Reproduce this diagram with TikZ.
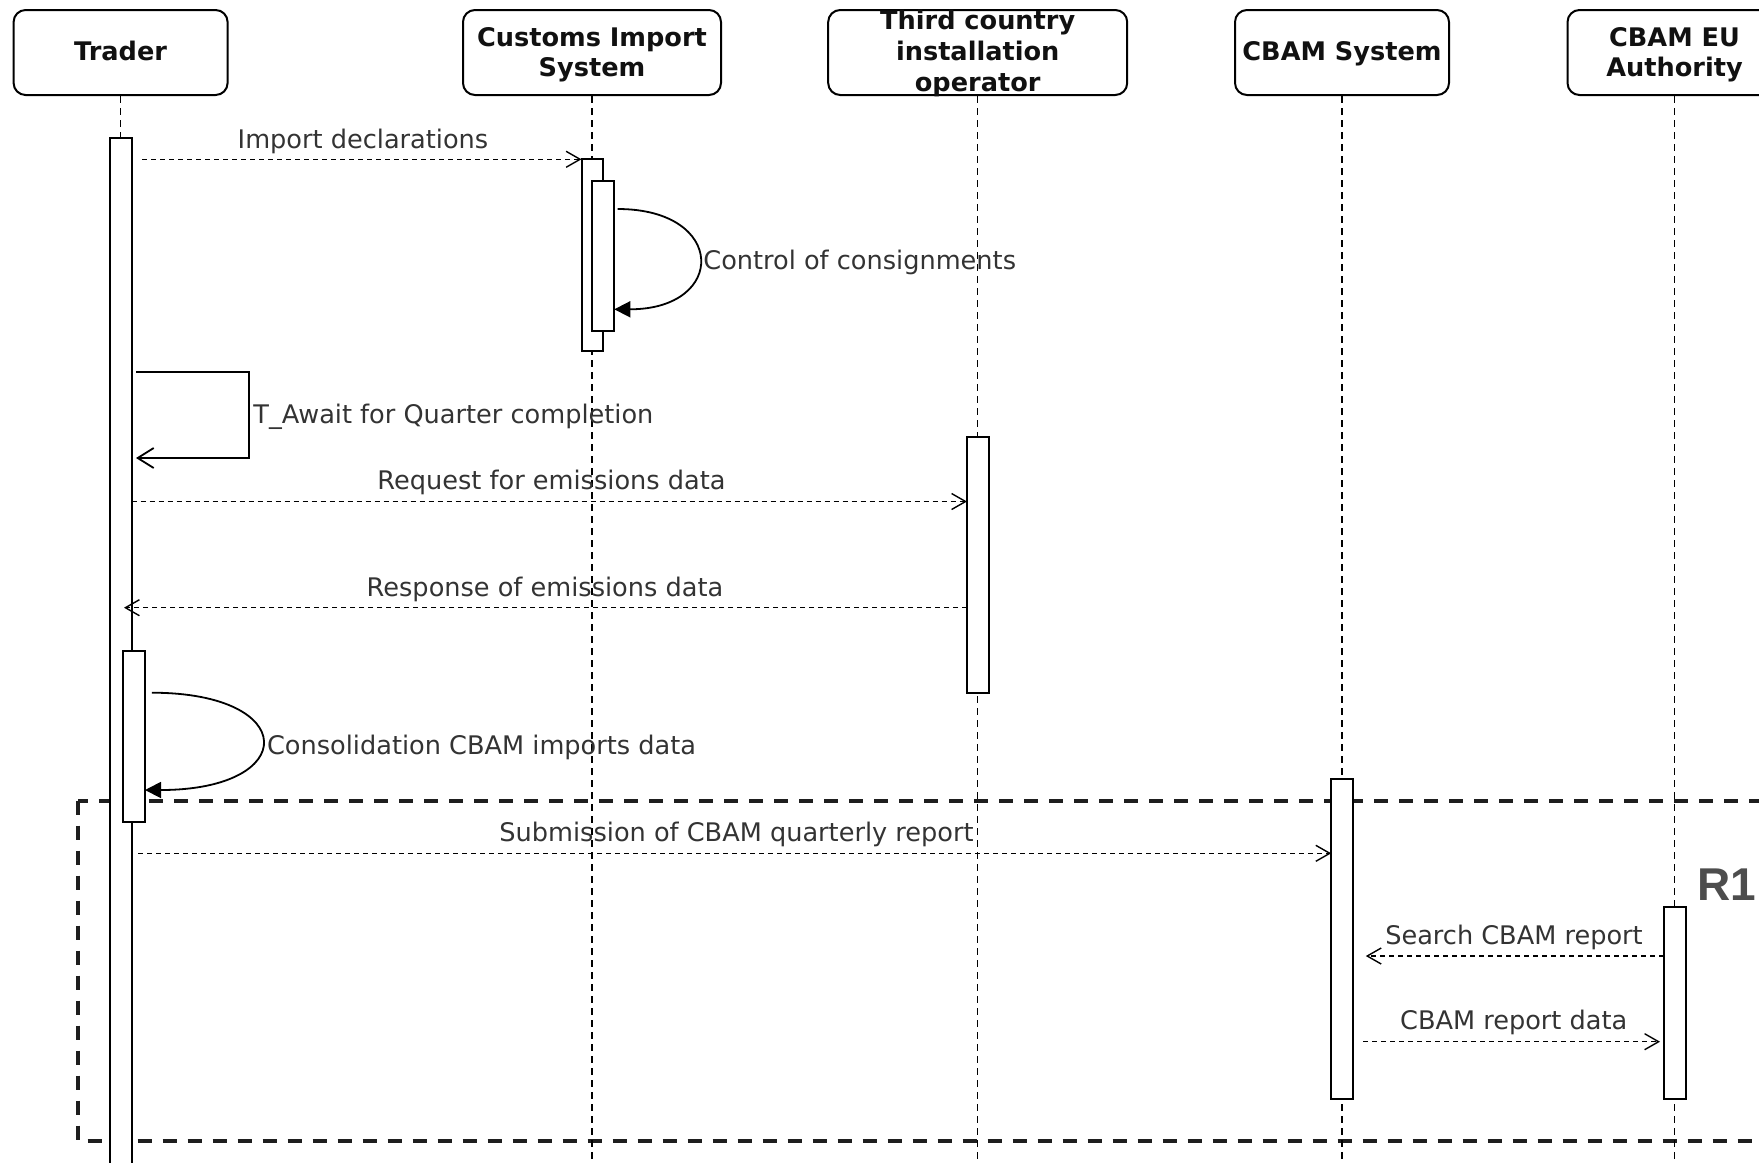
\documentclass[tikz,border=0pt]{standalone}
\usepackage{fontspec}
\setmainfont{DejaVu Sans}
\newfontfamily\rfont{Liberation Sans}
\usetikzlibrary{arrows.meta,fit,calc}
\definecolor{hdrtxt}{HTML}{111111}
\definecolor{lbltxt}{HTML}{333333}
\definecolor{rone}{HTML}{4D4D4D}
\definecolor{grp}{HTML}{1E1E1E}
\begin{document}
\begin{tikzpicture}[x=0.5pt,y=-0.5pt,
  hdr/.style={draw, rounded corners=6pt, line width=1pt, minimum height=42.5pt,
    inner sep=0pt},
  hdrtext/.style={align=center, inner sep=0pt, text=hdrtxt,
    font=\fontsize{12.8}{15.4}\selectfont\bfseries},
  act/.style={draw, fill=white, line width=1pt, inner sep=0pt, outer sep=0pt},
  life/.style={line width=0.7pt, dash pattern=on 3.5pt off 2.5pt},
  msg/.style={line width=0.7pt, dash pattern=on 2.5pt off 2pt,
    -{Straight Barb[length=7pt,width=8pt,line width=0.7pt]}},
  selfsq/.style={line width=1pt, -{Straight Barb[length=8pt,width=10pt,line width=0.9pt]}},
  selfcurve/.style={line width=0.9pt, -{Triangle[length=8pt,width=8pt]}},
  lbl/.style={inner sep=0pt, text=lbltxt, font=\fontsize{12.8}{15}\selectfont},
  grpbox/.style={draw=grp, line width=1.9pt, dash pattern=on 7pt off 5.5pt}
]
\useasboundingbox (0,0) rectangle (1759,1162);

% group frame
\draw[grpbox] (78,800.7) rectangle (1830,1141);

% headers
\node[hdr, minimum width=107pt] (trader) at (120.6,52.5) {};
\node[hdr, minimum width=129pt] (customs) at (592,52.5) {};
\node[hdr, minimum width=149.5pt] (third) at (977.7,52.5) {};
\node[hdr, minimum width=107pt] (cbam) at (1342,52.5) {};
\node[hdr, minimum width=107pt] (auth) at (1674.5,52.5) {};
\node[hdrtext] (trader-t) at ([yshift=1pt]trader.center) {Trader};
\node[hdrtext] (customs-t) at ([yshift=-1.1pt]customs.center) {Customs Import\\System};
\node[hdrtext] (third-t) at ([yshift=-0.6pt]third.center) {Third country\\installation\\operator};
\node[hdrtext] (cbam-t) at ([yshift=-0.5pt]cbam.center) {CBAM System};
\node[hdrtext] (auth-t) at ([yshift=-1.1pt]auth.center) {CBAM EU\\Authority};

% lifelines
\foreach \n in {trader,customs,third,cbam,auth}
  \draw[life] (\n.south) -- (\n.south |- 0,1170);

% activation bars
\node[act, fit={(110.3,138.3) (131.5,1180)}] (tA) {};
\node[act, fit={(123,651) (145,821.5)}] (tB) {};
\node[act, fit={(581.5,159.3) (603.3,351)}] (cA) {};
\node[act, fit={(592.3,180.7) (614.3,330.7)}] (cB) {};
\node[act, fit={(967,437) (988.5,693)}] (thA) {};
\node[act, fit={(1331.2,779) (1353.3,1099.3)}] (sA) {};
\node[act, fit={(1663.5,906.7) (1685.6,1099.3)}] (aA) {};

% Import declarations
\coordinate (m1s) at (142,159.3);
\draw[msg] (m1s) -- (cA.west |- m1s);
\node[lbl, anchor=base] (l1) at (363,148.3) {Import declarations};

% Control of consignments
\coordinate (m2s) at (617.7,209);
\coordinate (m2e) at (cB.east |- 0,309.3);
\draw[selfcurve] (m2s) .. controls (727,209) and (727,309.3) .. (m2e);
\node[lbl, anchor=base west] (l2) at (703,269.3) {Control of consignments};

% T_Await
\coordinate (m3s) at (136,372);
\coordinate (m3a) at (249,372);
\coordinate (m3b) at (249,458);
\coordinate (m3e) at (136,458);
\draw[selfsq] (m3s) -- (m3a) -- (m3b) -- (m3e);
\node[lbl, anchor=base west] (l3) at (253,423.3) {T\_Await for Quarter completion};

% Request
\coordinate (m4s) at (tA.east |- 0,501.5);
\draw[msg] (m4s) -- (thA.west |- m4s);
\node[lbl, anchor=base] (l4) at (551.5,489.3) {Request for emissions data};

% Response
\coordinate (m5e) at (124,607.7);
\draw[msg] (thA.west |- m5e) -- (m5e);
\node[lbl, anchor=base] (l5) at (545,596) {Response of emissions data};

% Consolidation
\coordinate (m6s) at (151.8,692.7);
\coordinate (m6e) at (tB.east |- 0,790);
\draw[selfcurve] (m6s) .. controls (300,692.7) and (300,790) .. (m6e);
\node[lbl, anchor=base west] (l6) at (266.7,754.3) {Consolidation CBAM imports data};

% Submission
\coordinate (m7s) at (138,853.3);
\draw[msg] (m7s) -- (sA.west |- m7s);
\node[lbl, anchor=base] (l7) at (736.5,841.7) {Submission of CBAM quarterly report};

% Search
\coordinate (m8e) at (1365.8,956);
\draw[msg] (aA.west |- m8e) -- (m8e);
\node[lbl, anchor=base] (l8) at (1514,944) {Search CBAM report};

% CBAM report data
\coordinate (m9s) at (1363.3,1041.7);
\coordinate (m9e) at (1660,1041.7);
\draw[msg] (m9s) -- (m9e);
\node[lbl, anchor=base] (l9) at (1513.7,1029.3) {CBAM report data};

% R1
\node[inner sep=0pt, anchor=base west, text=rone, font=\rfont\fontsize{23}{23}\selectfont\bfseries] (r1) at (1697,900) {R1};
\end{tikzpicture}
\end{document}
